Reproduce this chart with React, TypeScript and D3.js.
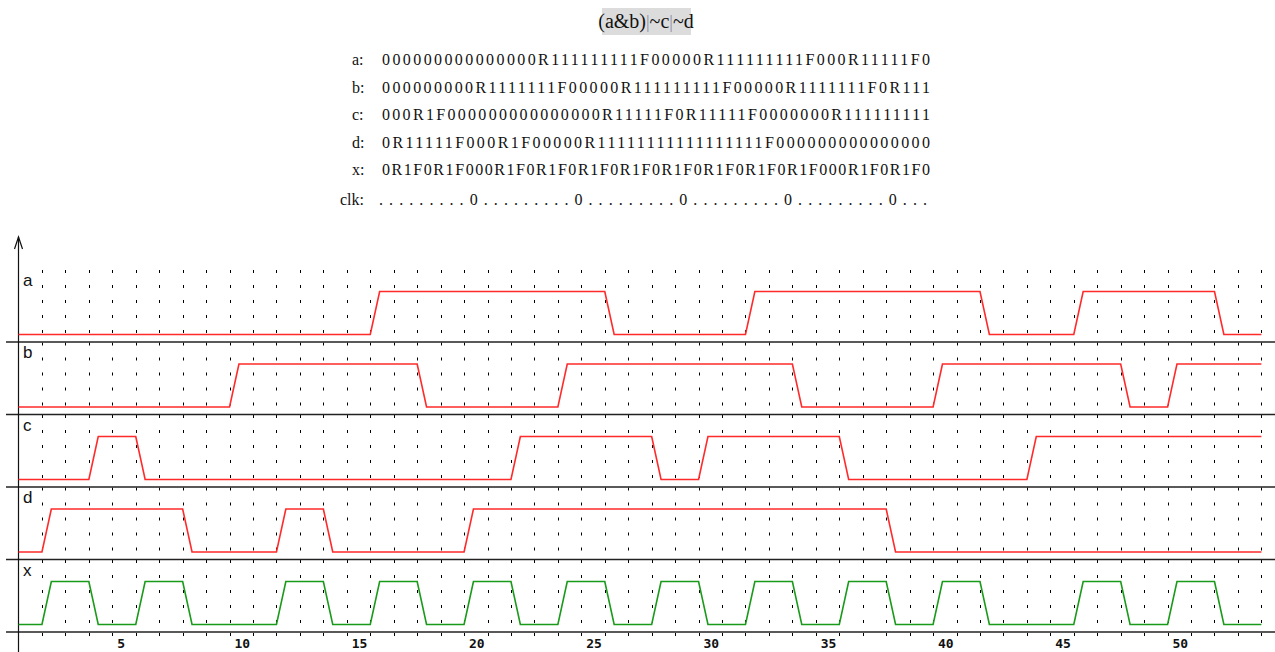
import React from "react";
import * as d3 from "d3";

// waveform strings, one char per clock unit: 0 low, 1 high, R rise, F fall
const signalNames = ["a", "b", "c", "d", "x"];
const waveA = "000000000000000R111111111F00000R111111111F000R11111F0";
const waveB = "000000000R1111111F00000R111111111F00000R1111111F0R111";
const waveC = "000R1F000000000000000R11111F0R11111F0000000R111111111";
const waveD = "0R11111F000R1F00000R11111111111111111F000000000000000";
const waveX = "0R1F0R1F000R1F0R1F0R1F0R1F0R1F0R1F0R1F0R1F000R1F0R1F0";
const waves = [waveA, waveB, waveC, waveD, waveX];
const waveColors = ["#ff2a2a", "#ff2a2a", "#ff2a2a", "#ff2a2a", "#1a9a1a"];
const clkLine = ". . . . . . . . . 0".replace(/ /g, "").repeat(5) + "...";
const tickValues = [5, 10, 15, 20, 25, 30, 35, 40, 45, 50];
const title = ["(a&b)", "|", "~c", "|", "~d"];

const W = 1275;
const H = 652;
const nUnits = 53;
const rowTop = 269.5;
const rowH = 72.5;
const edge = 0.4; // width of a transition, in clock units

const x = d3.scaleLinear().domain([0, nUnits]).range([18.5, 1261.4]);

function wavePoints(wave: string): [number, number][] {
  const pts: [number, number][] = [];
  let lvl = wave[0] === "1" || wave[0] === "F" ? 1 : 0;
  pts.push([0, lvl]);
  for (let i = 0; i < wave.length; i++) {
    const c = wave[i];
    if (c === "R") {
      pts.push([i, 0], [i + edge, 1]);
      lvl = 1;
    } else if (c === "F") {
      pts.push([i, 1], [i + edge, 0]);
      lvl = 0;
    } else {
      lvl = c === "1" ? 1 : 0;
    }
    pts.push([i + 1, lvl]);
  }
  return pts;
}

export default function App() {
  const cols = d3.range(1, nUnits + 1);
  const textX = 382;
  const textW = 548;
  const textRows = signalNames.map((n, i) => ({ label: n + ":", s: waves[i] }));

  return (
    <svg
      width={W}
      height={H}
      style={{ position: "absolute", left: 0, top: 0, display: "block", background: "#fff" }}
    >
      {/* title */}
      <rect x={602} y={8} width={89} height={27} fill="#dcdcdc" />
      <text x={646} y={28} textAnchor="middle" fontFamily="Liberation Serif" fontSize={20} fill="#111">
        {title.map((t, i) => (
          <tspan key={i} fill={t === "|" ? "#8a8aa8" : "#111"} fontSize={t === "|" ? 18 : 20}>
            {t}
          </tspan>
        ))}
      </text>

      {/* text listing of the waveforms */}
      <g fontFamily="Liberation Serif" fontSize={16} fill="#111">
        {textRows.map((r, i) => {
          const y = 65 + i * 27.5;
          return (
            <g key={r.label}>
              <text x={352} y={y}>{r.label}</text>
              <text x={textX} y={y} textLength={textW} lengthAdjust="spacing">{r.s}</text>
            </g>
          );
        })}
        <text x={340} y={65 + 5 * 27.5 + 2}>clk:</text>
        <text x={379} y={65 + 5 * 27.5 + 2} textLength={textW} lengthAdjust="spacing">{clkLine}</text>
      </g>

      {/* dotted grid */}
      <g stroke="#000" strokeWidth={1} strokeDasharray="3 12">
        {signalNames.map((n, r) =>
          cols.map((c) => (
            <line
              key={n + c}
              x1={Math.round(x(c)) + 0.5}
              x2={Math.round(x(c)) + 0.5}
              y1={rowTop + r * rowH + 0.5}
              y2={rowTop + (r + 1) * rowH}
            />
          ))
        )}
        {cols.map((c) => (
          <line
            key={"b" + c}
            x1={Math.round(x(c)) + 0.5}
            x2={Math.round(x(c)) + 0.5}
            y1={rowTop + 5 * rowH + 1}
            y2={rowTop + 5 * rowH + 5}
          />
        ))}
      </g>

      {/* row separators */}
      <g stroke="#222" strokeWidth={1.5}>
        {d3.range(1, 6).map((r) => (
          <line key={r} x1={6} x2={W} y1={rowTop + r * rowH} y2={rowTop + r * rowH} />
        ))}
      </g>

      {/* y axis with arrow */}
      <g stroke="#111" strokeWidth={1.2} fill="none">
        <line x1={18.5} x2={18.5} y1={237} y2={H} />
        <path d="M14.5,249 L18.5,237 L22.5,249" />
      </g>

      {/* waveforms */}
      {waves.map((w, r) => {
        const top = rowTop + r * rowH;
        const y = d3.scaleLinear().domain([0, 1]).range([top + 65, top + 22]);
        const line = d3
          .line<[number, number]>()
          .x((d) => x(d[0]))
          .y((d) => y(d[1]));
        return (
          <g key={signalNames[r]}>
            <path d={line(wavePoints(w)) ?? ""} fill="none" stroke={waveColors[r]} strokeWidth={1.6} />
            <text x={23} y={top + 16} fontFamily="Liberation Sans" fontSize={17} fill="#111">
              {signalNames[r]}
            </text>
          </g>
        );
      })}

      {/* x tick labels */}
      <g fontFamily="DejaVu Sans Mono" fontWeight="bold" fontSize={13} fill="#111">
        {tickValues.map((t) => (
          <text key={t} x={x(t) - 18.5} y={648}>{t}</text>
        ))}
      </g>
    </svg>
  );
}
